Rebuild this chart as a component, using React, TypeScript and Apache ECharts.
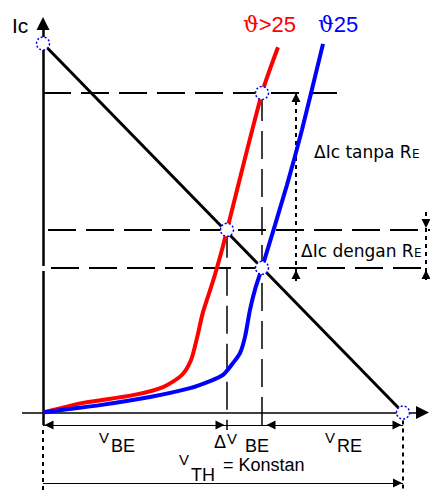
import React, { useEffect, useRef } from "react";
import * as echarts from "echarts";

// ---- Data (V in volts, Ic in mA) ----
const V_TH = 9;
const IC_MAX = 10;
const loadLine: number[][] = [[0, IC_MAX], [V_TH, 0]];

// transistor curve at temperature > 25
const hotCurve: number[][] = [
  [0, 0], [1.0, 0.26], [2.25, 0.47], [3.0, 0.69], [3.475, 1.02], [3.7, 1.42],
  [3.85, 2.02], [4.0, 2.72], [4.25, 3.56], [4.475, 4.41], [4.6, 4.95],
  [5.475, 8.66], [5.875, 9.9],
];
// transistor curve at 25
const coldCurve: number[][] = [
  [0, 0], [0.6, 0.09], [1.425, 0.2], [2.675, 0.42], [3.675, 0.66], [4.175, 0.85],
  [4.5, 1.02], [4.75, 1.34], [4.925, 1.61], [5.05, 2.05], [5.175, 2.78],
  [5.3, 3.33], [5.475, 3.92], [6.1, 6.17], [6.475, 7.66], [7.0, 9.99],
];

const Q_HOT = [4.6, 4.95]; // operating point with RE, hot
const Q_COLD = [5.475, 3.92]; // operating point, 25
const P_HOT_NO_RE = [5.475, 8.66]; // hot point without RE
const markPoints: number[][] = [[0, IC_MAX], P_HOT_NO_RE, Q_HOT, Q_COLD, [V_TH, 0]];

// ---- layout (pixel scale of the drawing) ----
const W = 430;
const H = 492;
const PX_PER_V = 40;
const PX_PER_MA = 36.9;
const ORIGIN_X = 43;
const ORIGIN_Y = 412.5;
const X_MIN = -ORIGIN_X / PX_PER_V;
const X_MAX = (W - ORIGIN_X) / PX_PER_V;
const Y_MIN = -(H - ORIGIN_Y) / PX_PER_MA;
const Y_MAX = ORIGIN_Y / PX_PER_MA;
const px2v = (px: number) => (px - ORIGIN_X) / PX_PER_V;
const py2i = (py: number) => (ORIGIN_Y - py) / PX_PER_MA;

type Pt = [number, number];
const seg = (a: Pt, b: Pt, endSym = "none", startSym = "none") => [
  { coord: a, symbol: startSym },
  { coord: b, symbol: endSym },
];

// arrow head whose tip is at (v,i), pointing dir, size in px
const arrowHead = (v: number, i: number, dir: string, size: number) => {
  const d: Record<string, [number, number]> = {
    left: [-1, 0], right: [1, 0], up: [0, -1], down: [0, 1],
  };
  const [dx, dy] = d[dir];
  const cx = -dx * size / 2, cy = -dy * size / 2;
  const sx = cx - dx * size * 0.4, sy = cy - dy * size * 0.4;
  const end: Pt = [v + cx / PX_PER_V, i - cy / PX_PER_MA];
  const start: Pt = [v + sx / PX_PER_V, i - sy / PX_PER_MA];
  return seg(start, end, "triangle");
};

const mlSeries = (name: string, data: any[], lineStyle: any, symbolSize = 8, z = 3) => ({
  name,
  type: "line",
  data: [],
  z,
  silent: true,
  markLine: {
    silent: true,
    animation: false,
    symbol: ["none", "none"],
    symbolSize,
    label: { show: false },
    emphasis: { disabled: true },
    lineStyle: { color: "#000", ...lineStyle },
    data,
  },
});

const FONT = '"Liberation Sans", Arial, sans-serif';
const FONT_WIDE = '"DejaVu Sans", Verdana, sans-serif';
// text placed by its baseline
const txt = (text: string, x: number, baseline: number, size: number, fill = "#000", family = FONT, rich?: any) => ({
  type: "text",
  x,
  y: baseline - 0.33 * size,
  z: 20,
  style: {
    text,
    fill,
    font: `${size}px ${family}`,
    align: "left",
    verticalAlign: "middle",
    ...(rich ? { rich } : {}),
  },
});
const thetaRich = (color: string) => ({
  t: { fontFamily: '"DejaVu Serif", serif', fontSize: 22, fill: color },
});

export default function App() {
  const ref = useRef<HTMLDivElement>(null);
  useEffect(() => {
    document.body.style.margin = "0";
    const chart = echarts.init(ref.current!, null, { renderer: "svg" });
    const dimY1 = py2i(425);
    const dimY2 = py2i(483);
    const vDimA = px2v(296);
    const vDimB = px2v(426);
    const option: any = {
      animation: false,
      backgroundColor: "#fff",
      grid: { left: 0, right: 0, top: 0, bottom: 0 },
      xAxis: { type: "value", min: X_MIN, max: X_MAX, show: false },
      yAxis: { type: "value", min: Y_MIN, max: Y_MAX, show: false },
      series: [
        // axes
        mlSeries("xaxis", [seg([px2v(22), 0], [px2v(429) - 6.5 / PX_PER_V, 0], "triangle")], { width: 1.5, type: "solid" }, 13, 4),
        mlSeries("yaxis", [
          seg([0, py2i(425)], [0, py2i(271)]),
          seg([0, py2i(266)], [0, py2i(17) - 6.5 / PX_PER_MA], "triangle"),
        ], { width: 2.5, type: "solid" }, 13, 4),
        // dashed horizontal guides
        mlSeries("hdash", [
          seg([0, P_HOT_NO_RE[1]], [px2v(338), P_HOT_NO_RE[1]]),
          seg([px2v(48), Q_HOT[1]], [X_MAX, Q_HOT[1]]),
          seg([px2v(51), Q_COLD[1]], [X_MAX, Q_COLD[1]]),
        ], { width: 2, type: [28, 10] }),
        // dashed vertical guides
        mlSeries("vdash", [
          seg([Q_HOT[0], Q_HOT[1]], [Q_HOT[0], py2i(430)]),
          seg([Q_COLD[0], P_HOT_NO_RE[1]], [Q_COLD[0], py2i(432)]),
        ], { width: 1.5, type: [28, 10] }),
        // dotted guides
        mlSeries("dotted", [
          seg([0, py2i(430)], [0, Y_MIN]),
          seg([V_TH, 0], [V_TH, Y_MIN]),
          seg([vDimA, P_HOT_NO_RE[1]], [vDimA, py2i(283)]),
          seg([vDimB, py2i(212)], [vDimB, py2i(282)]),
        ], { width: 2, type: [4, 4] }),
        // dimension lines
        mlSeries("dims", [
          seg([0, dimY1], [V_TH, dimY1]),
          seg([0, dimY2], [V_TH, dimY2]),
        ], { width: 1.2, type: "solid" }),
        // arrow heads
        mlSeries("arrows", [
          arrowHead(px2v(45), dimY1, "left", 8),
          arrowHead(px2v(224), dimY1, "right", 8),
          arrowHead(px2v(267), dimY1, "left", 8),
          arrowHead(px2v(401), dimY1, "right", 8),
          arrowHead(V_TH, dimY2, "right", 11),
          arrowHead(vDimA, P_HOT_NO_RE[1], "up", 9),
          arrowHead(vDimA, py2i(270), "up", 9),
          arrowHead(vDimB, py2i(228), "down", 9),
          arrowHead(vDimB, py2i(270), "up", 9),
        ], { width: 1, type: "solid" }, 9, 5),
        {
          name: "load line",
          type: "line",
          data: loadLine,
          showSymbol: false,
          silent: true,
          z: 6,
          lineStyle: { color: "#000", width: 3 },
        },
        {
          name: "hot",
          type: "line",
          data: hotCurve,
          showSymbol: false,
          smooth: 0.25,
          silent: true,
          z: 7,
          lineStyle: { color: "#ff0000", width: 4 },
        },
        {
          name: "cold",
          type: "line",
          data: coldCurve,
          showSymbol: false,
          smooth: 0.25,
          silent: true,
          z: 8,
          lineStyle: { color: "#0000ff", width: 4 },
        },
        {
          name: "points",
          type: "scatter",
          data: markPoints,
          symbol: "circle",
          symbolSize: 13,
          silent: true,
          z: 10,
          itemStyle: { color: "#fff", borderColor: "#0000ff", borderWidth: 1.5, borderType: [2, 2], opacity: 1 },
        },
      ],
      graphic: [
        txt("Ic", 12, 32, 21),
        txt("{t|\u03D1}>25", 243, 32, 22, "#ff0000", FONT, thetaRich("#ff0000")),
        txt("{t|\u03D1}25", 318, 32, 22, "#0000ff", FONT, thetaRich("#0000ff")),
        txt("\u0394Ic tanpa R", 314, 158, 17, "#000", FONT_WIDE),
        txt("E", 412, 158, 12, "#000", FONT_WIDE),
        txt("\u0394Ic dengan R", 301, 257, 17, "#000", FONT_WIDE),
        txt("E", 414, 257, 12, "#000", FONT_WIDE),
        txt("V", 99, 442, 15),
        txt("BE", 111, 452, 18),
        txt("\u0394", 214, 448, 18),
        txt("V", 227, 443, 15),
        txt("BE", 245, 452, 18),
        txt("V", 325, 442, 15),
        txt("RE", 337, 452, 18),
        txt("V", 179, 464, 15),
        txt("TH", 191, 481, 18),
        txt("= Konstan", 223, 471, 18),
      ],
    };
    chart.setOption(option);
    return () => chart.dispose();
  }, []);
  return <div ref={ref} style={{ width: W, height: H }} />;
}
